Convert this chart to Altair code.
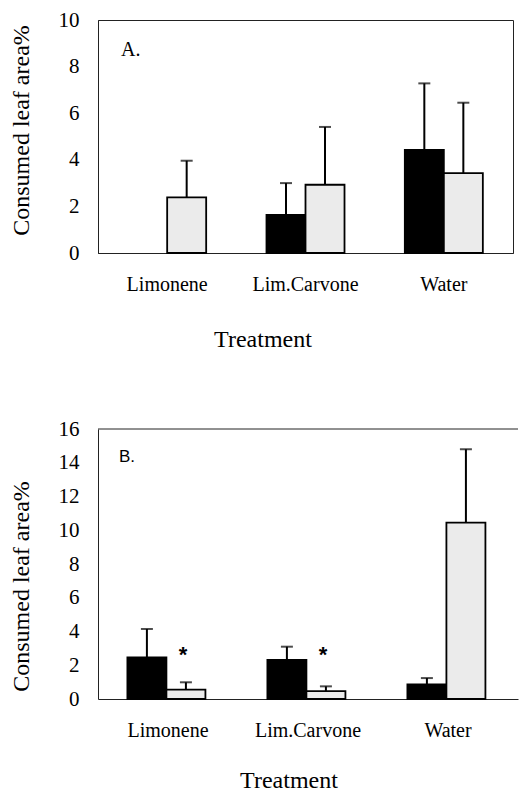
import altair as alt
import pandas as pd

SERIF = "Liberation Serif"
SANS = "Liberation Sans"

treatments = ["Limonene", "Lim.Carvone", "Water"]
series_names = ["Series 1", "Series 2"]
series_colors = ["black", "#ebebeb"]

# Panel A
a_black_mean = [0.0, 1.64, 4.42]
a_black_sd = [0.0, 1.36, 2.86]
a_dotted_mean = [2.39, 2.93, 3.43]
a_dotted_sd = [1.57, 2.48, 3.02]
a_ticks = [0, 2, 4, 6, 8, 10]

# Panel B
b_black_mean = [2.47, 2.31, 0.87]
b_black_sd = [1.68, 0.79, 0.37]
b_dotted_mean = [0.56, 0.47, 10.45]
b_dotted_sd = [0.43, 0.28, 4.35]
b_ticks = [0, 2, 4, 6, 8, 10, 12, 14, 16]
b_star_treatments = ["Limonene", "Lim.Carvone"]
b_star_level = [2.2, 2.2]

y_title = "Consumed leaf area%"
x_title = "Treatment"


def make_df(bm, bs, dm, ds):
    rows = []
    for i, t in enumerate(treatments):
        rows.append(dict(treatment=t, series=series_names[0], mean=bm[i], sd=bs[i], upper=bm[i] + bs[i]))
        rows.append(dict(treatment=t, series=series_names[1], mean=dm[i], sd=ds[i], upper=dm[i] + ds[i]))
    return pd.DataFrame(rows)


def panel(df, ticks, width, height, pad_inner, letter, letter_font, letter_size,
          letter_x, letter_y, ytitle_y, xtitle_x, xtitle_y, label_pad, framed, stars=None):
    ymax = ticks[-1]
    xenc = alt.X(
        "treatment:N", sort=treatments,
        scale=alt.Scale(domain=treatments, paddingInner=pad_inner, paddingOuter=pad_inner / 2),
        axis=alt.Axis(
            title=x_title, labelAngle=0, labelFont=SERIF, labelFontSize=20, labelColor="black",
            labelPadding=label_pad, labelBaseline="alphabetic", ticks=False, tickSize=0,
            domainColor="#222", domainWidth=1, labelOverlap=False,
            titleFont=SERIF, titleFontSize=24, titleFontWeight="normal", titleColor="black",
            titleX=xtitle_x, titleY=xtitle_y, titleBaseline="alphabetic", titleAlign="center",
        ),
    )
    xo = alt.XOffset("series:N", sort=series_names,
                     scale=alt.Scale(domain=series_names, paddingInner=0, paddingOuter=0))
    yaxis = alt.Axis(
        values=ticks, grid=False, ticks=False, tickSize=0, labelFont=SERIF, labelFontSize=21,
        labelColor="black", labelPadding=19, domainColor="#222", domainWidth=1,
        labelOverlap=False,
        title=y_title, titleFont=SERIF, titleFontSize=24, titleFontWeight="normal",
        titleColor="black", titleAngle=270, titleX=-77, titleY=ytitle_y,
        titleBaseline="middle", titleAlign="center",
    )
    yscale = alt.Scale(domain=[0, ymax], nice=False)

    def Y(field):
        return alt.Y(field, type="quantitative", scale=yscale, axis=yaxis)

    base = alt.Chart(df)
    bars = base.transform_filter("datum.mean > 0").mark_bar(stroke="black", strokeWidth=1.8).encode(
        x=xenc, xOffset=xo, y=Y("mean"),
        fill=alt.Fill("series:N", scale=alt.Scale(domain=series_names, range=series_colors), legend=None),
    )
    err = base.transform_filter("datum.sd > 0").mark_rule(color="black", strokeWidth=2).encode(
        x=xenc, xOffset=xo, y=Y("mean"), y2="upper:Q")
    cap = base.transform_filter("datum.sd > 0").mark_tick(color="black", thickness=2, size=12).encode(
        x=xenc, xOffset=xo, y=Y("upper"))
    lab = alt.Chart(pd.DataFrame({"t": [letter]})).mark_text(
        font=letter_font, fontSize=letter_size, align="left", baseline="alphabetic", color="black"
    ).encode(x=alt.value(letter_x), y=alt.value(letter_y), text="t:N")
    layers = [bars, err, cap, lab]
    if stars is not None:
        layers.append(
            alt.Chart(stars).mark_text(font=SANS, fontSize=22, fontWeight="bold", baseline="alphabetic",
                                       color="black", dx=-3).encode(
                x=xenc, xOffset=xo, y=Y("level"), text="t:N"))
    if not framed:
        layers.append(
            alt.Chart(pd.DataFrame({"top": [ymax]})).mark_rule(color="#222", strokeWidth=1).encode(
                y=Y("top")))
    view = alt.ViewBackground(stroke="#222", strokeWidth=1) if framed else alt.ViewBackground(strokeOpacity=0)
    return alt.layer(*layers).properties(width=width, height=height, view=view)


df_a = make_df(a_black_mean, a_black_sd, a_dotted_mean, a_dotted_sd)
df_b = make_df(b_black_mean, b_black_sd, b_dotted_mean, b_dotted_sd)
stars_b = pd.DataFrame({"treatment": b_star_treatments, "series": [series_names[1]] * 2,
                        "level": b_star_level, "t": ["*", "*"]})

chart_a = panel(df_a, a_ticks, 415, 233, 0.436, "A.", SERIF, 20, 23, 36, 110, 164.5, 93.5, 37, True)
chart_b = panel(df_b, b_ticks, 420, 270, 0.42, "B.", SANS, 17, 21, 33, 157, 190.5, 88, 37.5, False, stars_b)

chart = alt.vconcat(chart_a, chart_b, spacing=176, bounds="flush").properties(
    padding={"left": 0, "top": 0, "right": 0, "bottom": 0}
).configure(background="white")

chart.save("out.html", embed_options={"renderer": "svg", "actions": False})
